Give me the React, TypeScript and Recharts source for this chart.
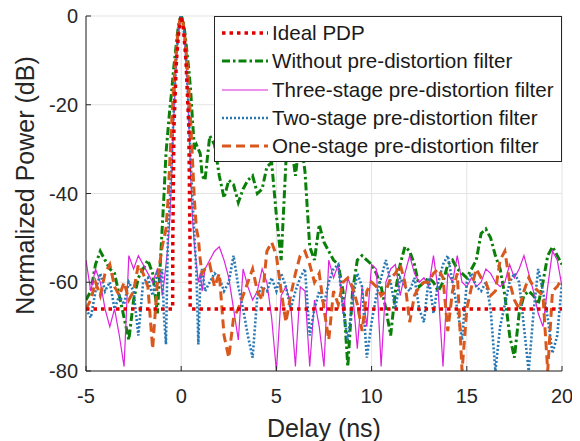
import React from 'react';
import { LineChart, Line, XAxis, YAxis, CartesianGrid, Legend } from 'recharts';

const delay = [
  -5, -4.75, -4.5, -4.25, -4, -3.75, -3.5, -3.25, -3, -2.75, -2.5, -2.25, -2, -1.75, -1.5, -1.25,
  -1.1, -1.0, -0.9, -0.8, -0.7, -0.6, -0.5, -0.4, -0.3, -0.2, -0.1, 0, 0.1, 0.2, 0.3, 0.4, 0.5, 0.6, 0.7, 0.8, 0.9, 1.0, 1.1,
  1.25, 1.5, 1.75, 2, 2.25, 2.5, 2.75, 3, 3.25, 3.5, 3.75, 4, 4.25, 4.5, 4.75, 5, 5.25, 5.5, 5.75, 6,
  6.25, 6.5, 6.75, 7, 7.25, 7.5, 7.75, 8, 8.25, 8.5, 8.75, 9, 9.25, 9.5, 9.75, 10, 10.25, 10.5, 10.75, 11,
  11.25, 11.5, 11.75, 12, 12.25, 12.5, 12.75, 13, 13.25, 13.5, 13.75, 14, 14.25, 14.5, 14.75, 15,
  15.25, 15.5, 15.75, 16, 16.25, 16.5, 16.75, 17, 17.25, 17.5, 17.75, 18, 18.25, 18.5, 18.75, 19,
  19.25, 19.5, 19.75, 20,
];

const withoutFilter = [
  -64, -62, -56, -53, -55, -57, -58, -63, -68, -73, -64, -59, -57, -55, -58, -67,
  -56, -48, -40, -31, -26, -21, -17, -12, -8, -4, -1, 0, -1, -4, -8, -12, -17, -24, -30, -29, -30, -31, -36,
  -37, -27, -29, -36, -41, -37, -38, -42, -39, -37, -36, -40, -39, -34, -33, -45, -55, -33, -28, -36,
  -27, -35, -52, -55, -47, -51, -53, -55, -56, -62, -79, -62, -55, -54, -55, -56, -58, -61, -66, -72,
  -62, -56, -52, -53, -56, -61, -60, -59, -60, -62, -60, -56, -55, -57, -58, -59,
  -57, -55, -49, -48, -50, -54, -57, -63, -72, -77, -67, -63, -62, -63, -65, -60,
  -54, -52, -54, -56,
];

const threeStage = [
  -55, -62, -57, -60, -66, -70, -66, -72, -79, -54, -57, -54, -56, -58, -60, -57,
  -58, -63, -60, -56, -52, -46, -36, -24, -14, -7, -2, 0, -2, -7, -14, -24, -36, -46, -52, -56, -60, -58, -62,
  -57, -55, -53, -52, -55, -59, -66, -73, -57, -61, -64, -62, -57, -60, -68, -80, -63, -61, -65, -79,
  -61, -62, -79, -64, -70, -79, -55, -59, -56, -67, -59, -62, -75, -61, -70, -56, -57, -79, -60, -57,
  -56, -63, -58, -54, -58, -60, -59, -61, -54, -62, -79, -58, -60, -54, -60, -61,
  -59, -61, -60, -57, -58, -60, -61, -60, -56, -59, -57, -54, -58, -62, -67, -70,
  -61, -53, -55, -61,
];

const twoStage = [
  -66, -68, -62, -58, -62, -60, -66, -63, -65, -60, -62, -72, -60, -59, -63, -58,
  -60, -57, -68, -74, -50, -42, -33, -22, -13, -6, -1.8, 0, -1.8, -6, -13, -22, -33, -42, -50, -58, -74, -60, -57,
  -62, -60, -58, -59, -62, -60, -54, -61, -66, -72, -77, -63, -61, -62, -59, -62, -58, -61, -66, -62,
  -59, -57, -72, -66, -62, -65, -60, -57, -56, -66, -73, -64, -58, -61, -77, -69, -63, -59, -55, -60,
  -66, -59, -61, -62, -59, -66, -69, -59, -67, -60, -56, -54, -60, -66, -73, -60,
  -58, -61, -62, -60, -66, -80, -70, -65, -60, -58, -60, -70, -80, -67, -57, -62,
  -68, -76, -72, -60,
];

const oneStage = [
  -66, -64, -60, -63, -58, -56, -61, -63, -60, -64, -62, -56, -58, -61, -75, -60,
  -55, -52, -50, -48, -42, -33, -24, -16, -10, -5, -1.5, 0, -1.5, -5, -10, -16, -24, -33, -42, -48, -50, -55, -58,
  -57, -56, -61, -58, -72, -77, -68, -66, -63, -60, -57, -62, -64, -53, -51, -54, -62, -69, -63, -58,
  -54, -53, -56, -60, -58, -66, -73, -62, -65, -60, -59, -61, -65, -71, -62, -60, -61, -63, -62, -59,
  -58, -56, -60, -69, -63, -61, -60, -60, -58, -57, -59, -71, -62, -58, -80, -66,
  -61, -57, -59, -60, -63, -62, -55, -53, -60, -64, -66, -62, -59, -61, -62, -63,
  -80, -62, -61, -59,
];

const idealDelay = [-5, -0.45, -0.44, -0.38, -0.25, -0.12, 0, 0.12, 0.25, 0.4, 0.46, 0.47, 20];
const idealPower = [-66, -66, -50, -25, -10, -3, 0, -3, -10, -25, -50, -66, -66];

const xTicks = [-5, 0, 5, 10, 15, 20];
const yTicks = [-80, -60, -40, -20, 0];

const seriesNames = {
  ideal: 'Ideal PDP',
  without: 'Without pre-distortion filter',
  three: 'Three-stage pre-distortion filter',
  two: 'Two-stage pre-distortion filter',
  one: 'One-stage pre-distortion filter',
};

const styles: Record<string, { color: string; width: number; dash?: string }> = {
  ideal: { color: '#e00000', width: 3.5, dash: '3.5 4' },
  without: { color: '#0a800a', width: 3, dash: '8 3 2.5 3' },
  three: { color: '#dd22dd', width: 1.2 },
  two: { color: '#2878b4', width: 2.6, dash: '2 2' },
  one: { color: '#d9581e', width: 3, dash: '9 5' },
};

const legendOrder = ['ideal', 'without', 'three', 'two', 'one'];

const rows = delay.map((d, i) => ({
  delay: d,
  without: withoutFilter[i],
  three: threeStage[i],
  two: twoStage[i],
  one: oneStage[i],
}));

const idealRows = idealDelay.map((d, i) => ({ delay: d, ideal: idealPower[i] }));

const FONT = '"Liberation Sans", Arial, Helvetica, sans-serif';
const AXIS = '#262626';
const TICK_FONT = 20;
const LABEL_FONT = 25;

const BottomTick = (props: any) => {
  const { x, y, payload } = props;
  return (
    <g>
      <line x1={x} y1={y} x2={x} y2={y - 5} stroke={AXIS} strokeWidth={1} />
      <text x={x} y={y + 32} textAnchor="middle" fontFamily={FONT} fontSize={TICK_FONT} fill={AXIS}>
        {payload.value}
      </text>
    </g>
  );
};

const TopTick = (props: any) => {
  const { x, y } = props;
  return <line x1={x} y1={y} x2={x} y2={y + 5} stroke={AXIS} strokeWidth={1} />;
};

const LeftTick = (props: any) => {
  const { x, y, payload } = props;
  return (
    <g>
      <line x1={x} y1={y} x2={x + 5} y2={y} stroke={AXIS} strokeWidth={1} />
      <text x={x - 8} y={y} dy="0.36em" textAnchor="end" fontFamily={FONT} fontSize={TICK_FONT} fill={AXIS}>
        {payload.value}
      </text>
    </g>
  );
};

const RightTick = (props: any) => {
  const { x, y } = props;
  return <line x1={x} y1={y} x2={x - 5} y2={y} stroke={AXIS} strokeWidth={1} />;
};

const XLabel = (props: any) => {
  const vb = props.viewBox;
  return (
    <text x={vb.x + vb.width / 2} y={vb.y + 66} textAnchor="middle" fontFamily={FONT} fontSize={LABEL_FONT} fill={AXIS}>
      Delay (ns)
    </text>
  );
};

const YLabel = (props: any) => {
  const vb = props.viewBox;
  const cx = vb.x + 34;
  const cy = vb.y + vb.height / 2 - 8;
  return (
    <text
      x={cx}
      y={cy}
      transform={`rotate(-90 ${cx} ${cy})`}
      textAnchor="middle"
      fontFamily={FONT}
      fontSize={LABEL_FONT}
      fill={AXIS}
    >
      Normalized Power (dB)
    </text>
  );
};

const LegendBox = () => (
  <div
    style={{
      boxSizing: 'border-box',
      width: 348,
      height: 146,
      border: `1px solid ${AXIS}`,
      background: '#ffffff',
      paddingTop: 2,
      fontFamily: FONT,
      fontSize: 20.6,
      color: '#1a1a1a',
    }}
  >
    {legendOrder.map((k) => {
      const s = styles[k];
      return (
        <div key={k} style={{ height: 28.3, display: 'flex', alignItems: 'center', whiteSpace: 'nowrap' }}>
          <svg width={57} height={28} style={{ flex: 'none' }}>
            <line x1={7} x2={53} y1={14} y2={14} stroke={s.color} strokeWidth={s.width} strokeDasharray={s.dash} />
          </svg>
          <span>{(seriesNames as any)[k]}</span>
        </div>
      );
    })}
  </div>
);

export default function App() {
  return (
    <div style={{ marginTop: -8, marginLeft: -8, width: 580, height: 441 }}>
      <LineChart width={580} height={441} data={rows} margin={{ top: 16, right: 18, bottom: 0, left: 0 }}>
        <CartesianGrid stroke="#e3e3e3" strokeWidth={1} />
        <XAxis
          dataKey="delay"
          type="number"
          domain={[-5, 20]}
          ticks={xTicks}
          interval={0}
          allowDataOverflow
          height={70}
          tickSize={0}
          tickMargin={0}
          tickLine={false}
          tick={<BottomTick />}
          axisLine={{ stroke: AXIS, strokeWidth: 1 }}
          label={(p: any) => <XLabel {...p} />}
        />
        <XAxis
          xAxisId="top"
          orientation="top"
          dataKey="delay"
          type="number"
          domain={[-5, 20]}
          ticks={xTicks}
          interval={0}
          allowDataOverflow
          height={0}
          tickSize={0}
          tickMargin={0}
          tickLine={false}
          tick={<TopTick />}
          axisLine={{ stroke: AXIS, strokeWidth: 1 }}
        />
        <YAxis
          type="number"
          domain={[-80, 0]}
          ticks={yTicks}
          interval={0}
          allowDataOverflow
          width={86}
          tickSize={0}
          tickMargin={0}
          tickLine={false}
          tick={<LeftTick />}
          axisLine={{ stroke: AXIS, strokeWidth: 1 }}
          label={(p: any) => <YLabel {...p} />}
        />
        <YAxis
          yAxisId="right"
          orientation="right"
          type="number"
          domain={[-80, 0]}
          ticks={yTicks}
          interval={0}
          allowDataOverflow
          width={0}
          tickSize={0}
          tickMargin={0}
          tickLine={false}
          tick={<RightTick />}
          axisLine={{ stroke: AXIS, strokeWidth: 1 }}
        />
        <Line dataKey="without" name={seriesNames.without} type="linear" stroke={styles.without.color} strokeWidth={styles.without.width} strokeDasharray={styles.without.dash} dot={false} isAnimationActive={false} />
        <Line dataKey="three" name={seriesNames.three} type="linear" stroke={styles.three.color} strokeWidth={styles.three.width} dot={false} isAnimationActive={false} />
        <Line dataKey="two" name={seriesNames.two} type="linear" stroke={styles.two.color} strokeWidth={styles.two.width} strokeDasharray={styles.two.dash} dot={false} isAnimationActive={false} />
        <Line dataKey="one" name={seriesNames.one} type="linear" stroke={styles.one.color} strokeWidth={styles.one.width} strokeDasharray={styles.one.dash} dot={false} isAnimationActive={false} />
        <Line data={idealRows} dataKey="ideal" name={seriesNames.ideal} type="linear" stroke={styles.ideal.color} strokeWidth={styles.ideal.width} strokeDasharray={styles.ideal.dash} dot={false} isAnimationActive={false} />
        <Legend
          layout="vertical"
          align="center"
          verticalAlign="middle"
          content={() => <LegendBox />}
          wrapperStyle={{ left: 214, top: 16, width: 348, height: 146, right: 'auto', bottom: 'auto' }}
        />
      </LineChart>
    </div>
  );
}
